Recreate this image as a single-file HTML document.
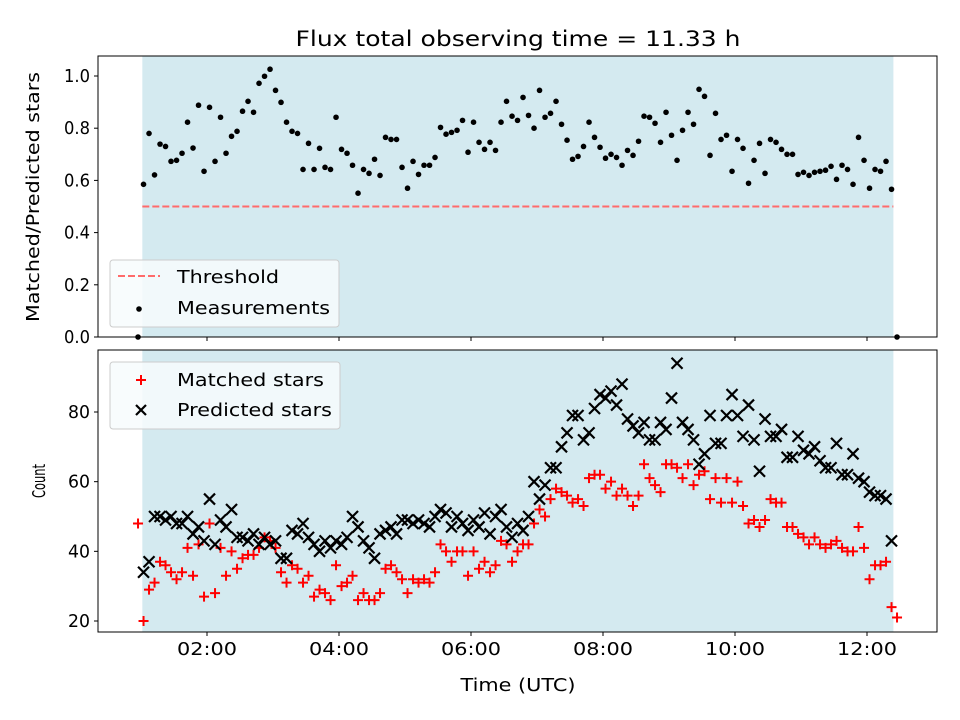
<!DOCTYPE html>
<html><head><meta charset="utf-8">
<style>
html,body{margin:0;padding:0;background:#fff;}
svg{display:block;font-family:"DejaVu Sans","Liberation Sans",sans-serif;}
</style></head>
<body>
<svg id="chart" width="960" height="720" viewBox="0 0 960 720" xmlns="http://www.w3.org/2000/svg"></svg>
<script>
const startHour = 0.955;
const stepHour = 5/60;
const ratioValues = [0,.585,.780,.621,.739,.730,.673,.677,.704,.823,.724,.888,.635,.880,.673,.842,.704,.769,.788,.865,.903,.861,.972,.999,1.026,.945,.899,.823,.788,.780,.642,.742,.642,.723,.650,.642,.842,.719,.704,.658,.551,.642,.627,.681,.619,.765,.757,.757,
.650,.570,.673,.623,.658,.658,.688,.803,.777,.784,.792,.830,.708,.823,.746,.719,.746,.715,.823,.903,.846,.830,.918,.849,.800,.945,.842,.857,.903,.815,.754,.681,.692,.730,.823,.765,.727,.685,.700,.688,.658,.715,.696,.750,.846,.842,.819,
.746,.861,.773,.677,.792,.861,.815,.949,.922,.696,.857,.757,.773,.635,.757,.723,.589,.677,.742,.627,.757,.746,.719,.700,.700,.623,.631,.619,.631,.635,.639,.654,.604,.658,.642,.585,.765,.677,.570,.642,.635,.673,.566,0];
const predictedValues = [null,34,37,50,50,49,50,48,48,50,45,47,43,55,42,49,47,52,44,44,43,45,42,44,42,43,38,38,46,45,48,44,42,40,43,41,43,42,44,50,47,43,41,38,45,46,47,45,49,49,48,49,48,47,50,52,51,47,50,48,46,49,47,51,45,50,52,47,44,48,46,50,60,55,59,64,64,70,74,79,79,72,74,81,85,84,86,82,88,78,76,74,77,72,72,77,75,84,94,77,75,72,65,68,79,71,71,79,85,79,73,82,72,63,78,73,73,75,67,67,73,69,68,70,66,64,64,71,62,62,68,61,60,57,56,56,55,43,null];
const matchedValues = [48,20,29,31,37,36,34,32,34,41,33,42,27,48,28,41,33,40,35,38,39,39,41,44,43,41,34,31,36,35,31,33,27,29,28,26,36,30,31,33,26,28,26,26,28,35,36,34,32,28,32,31,32,31,34,42,40,37,40,40,33,40,35,37,34,36,43,42,37,40,42,42,48,52,50,55,58,57,56,54,55,53,61,62,62,58,60,56,58,56,53,56,65,61,59,57,65,65,64,61,65,59,62,63,55,61,54,61,54,60,53,48,49,47,49,55,54,54,47,47,45,44,42,44,42,41,42,43,41,40,40,47,41,32,36,36,37,24,21];
const xTickLabels = ["02:00","04:00","06:00","08:00","10:00","12:00"];
const xTickHours = [2,4,6,8,10,12];
const topTicks = [0,0.2,0.4,0.6,0.8,1.0];
const bottomTicks = [20,40,60,80];
const thresholdValue = 0.5;
const shadeStart = 1.02, shadeEnd = 12.40;

const NS = "http://www.w3.org/2000/svg";
const svg = document.getElementById("chart");
const L = 98, R = 937;
const TT = 56, TB = 337, BT = 350, BB = 632;
const xs = h => 75 + h*66;
const yTop = v => 337 - v*261;
const yBot = v => 621 - (v-20)*3.4833;
function mk(tag, attrs, parent){const e=document.createElementNS(NS,tag);for(const k in attrs)e.setAttribute(k,attrs[k]);(parent||svg).appendChild(e);return e;}

const sh1 = mk("rect",{x:xs(shadeStart),y:TT,width:xs(shadeEnd)-xs(shadeStart),height:TB-TT,fill:"#d4eaf0"});


const sh2 = mk("rect",{x:xs(shadeStart),y:BT,width:xs(shadeEnd)-xs(shadeStart),height:BB-BT,fill:"#d4eaf0"});



const th = mk("line",{x1:xs(shadeStart),x2:xs(shadeEnd),y1:yTop(thresholdValue),y2:yTop(thresholdValue),stroke:"#ff6b6b","stroke-width":2,"stroke-dasharray":"7,3"});



const defs = mk("defs",{});
const c1 = mk("clipPath",{id:"ct"},defs); mk("rect",{x:L,y:TT,width:R-L,height:TB-TT+4},c1);
const c2 = mk("clipPath",{id:"cb"},defs); mk("rect",{x:L,y:BT,width:R-L,height:BB-BT},c2);
const gTop = mk("g",{"clip-path":"url(#ct)"});


const gBot = mk("g",{"clip-path":"url(#cb)"});



ratioValues.forEach((v,i)=>{
  const h = startHour + i*stepHour;
  const c = mk("circle",{cx:xs(h),cy:yTop(v),r:2.8,fill:"#000"},gTop);
  
  
});
matchedValues.forEach((v,i)=>{
  if(v===null)return;
  const x = xs(startHour + i*stepHour), y = yBot(v);
  const p = mk("path",{d:`M${x-5},${y}H${x+5}M${x},${y-5}V${y+5}`,stroke:"#ff0000","stroke-width":2,fill:"none"},gBot);
  
  
});
predictedValues.forEach((v,i)=>{
  if(v===null)return;
  const x = xs(startHour + i*stepHour), y = yBot(v);
  const p = mk("path",{d:`M${x-5.5},${y-5.5}L${x+5.5},${y+5.5}M${x-5.5},${y+5.5}L${x+5.5},${y-5.5}`,stroke:"#000","stroke-width":2.2,fill:"none"},gBot);
  
  
});

const f1 = mk("rect",{x:L,y:TT,width:R-L,height:TB-TT,fill:"none",stroke:"#000","stroke-width":1});


const f2 = mk("rect",{x:L,y:BT,width:R-L,height:BB-BT,fill:"none",stroke:"#000","stroke-width":1});



xTickHours.forEach((h,i)=>{
  const x = xs(h);
  mk("line",{x1:x,x2:x,y1:TB,y2:TB+4,stroke:"#000"});
  mk("line",{x1:x,x2:x,y1:BB,y2:BB+4,stroke:"#000"});
  const t = mk("text",{x:x,y:BB+23,"text-anchor":"middle","font-size":18,textLength:60,lengthAdjust:"spacingAndGlyphs",fill:"#000"});
  t.textContent = xTickLabels[i];
  
  
});
topTicks.forEach(v=>{
  const y = yTop(v);
  mk("line",{x1:L-4,x2:L,y1:y,y2:y,stroke:"#000"});
  const t = mk("text",{x:L-8,y:y+6,"text-anchor":"end","font-size":18,textLength:26,lengthAdjust:"spacingAndGlyphs",fill:"#000"});
  t.textContent = v.toFixed(1);
  
  
});
bottomTicks.forEach(v=>{
  const y = yBot(v);
  mk("line",{x1:L-4,x2:L,y1:y,y2:y,stroke:"#000"});
  const t = mk("text",{x:L-8,y:y+6,"text-anchor":"end","font-size":18,textLength:22,lengthAdjust:"spacingAndGlyphs",fill:"#000"});
  t.textContent = String(v);
  
  
});
</script>
<script>
(function(){
const svg=document.getElementById("chart");
svg.insertAdjacentHTML("beforeend",`
<text x="518" y="46" text-anchor="middle" font-size="21" textLength="445" lengthAdjust="spacingAndGlyphs">Flux total observing time = 11.33 h</text>
<text transform="translate(39,197) rotate(-90)" text-anchor="middle" font-size="18" textLength="250" lengthAdjust="spacingAndGlyphs">Matched/Predicted stars</text>
<text transform="translate(45,481) rotate(-90)" text-anchor="middle" font-size="18" textLength="34" lengthAdjust="spacingAndGlyphs">Count</text>
<text x="518" y="691" text-anchor="middle" font-size="18" textLength="115" lengthAdjust="spacingAndGlyphs">Time (UTC)</text>
<g>
 <rect x="110" y="260" width="229" height="67" rx="3" fill="#f7fbfd" fill-opacity="0.85" stroke="#cccccc"/>
 <line x1="118" y1="276" x2="160" y2="276" stroke="#ff6b6b" stroke-width="2" stroke-dasharray="7,3"/>
 <text x="177" y="283" font-size="18" textLength="102" lengthAdjust="spacingAndGlyphs">Threshold</text>
 <circle cx="139" cy="309" r="2.8" fill="#000"/>
 <text x="177" y="314" font-size="18" textLength="153" lengthAdjust="spacingAndGlyphs">Measurements</text>
</g>
<g>
 <rect x="110" y="362" width="230" height="67" rx="3" fill="#f7fbfd" fill-opacity="0.85" stroke="#cccccc"/>
 <path d="M136,380H146M141,375V385" stroke="#ff0000" stroke-width="2"/>
 <text x="177" y="386" font-size="18" textLength="147" lengthAdjust="spacingAndGlyphs">Matched stars</text>
 <path d="M136,405L146,415M136,415L146,405" stroke="#000" stroke-width="2.2"/>
 <text x="177" y="416" font-size="18" textLength="155" lengthAdjust="spacingAndGlyphs">Predicted stars</text>
</g>`);
})();
</script>
</body></html>
